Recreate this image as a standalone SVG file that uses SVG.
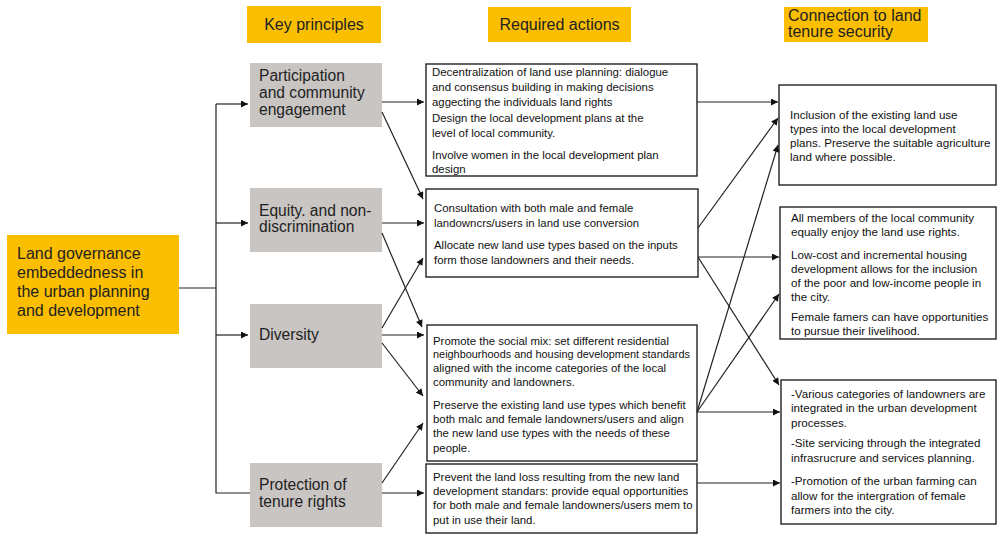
<svg xmlns="http://www.w3.org/2000/svg" width="997" height="536" viewBox="0 0 997 536">
<style>
.yel{fill:#FCBF00}
.gray{fill:#C9C5C3}
.box{fill:#fff;stroke:#222;stroke-width:1.4}
.hd{font-family:"Liberation Sans",Arial,sans-serif;font-size:16px;fill:#222}
.pr{font-family:"Liberation Sans",Arial,sans-serif;font-size:15.6px;fill:#222}
.ac{font-family:"Liberation Sans",Arial,sans-serif;font-size:11.4px;fill:#111}
.tn{font-family:"Liberation Sans",Arial,sans-serif;font-size:11.6px;fill:#111}
.ln{fill:none;stroke:#222;stroke-width:1.2}
.ar{fill:none;stroke:#222;stroke-width:1.2;marker-end:url(#ah)}
</style>
<defs>
<marker id="ah" viewBox="0 0 10 10" refX="10" refY="5" markerWidth="8" markerHeight="7" markerUnits="userSpaceOnUse" orient="auto">
<path d="M0,0 L10,5 L0,10 z" fill="#111"/>
</marker>
</defs>
<rect width="997" height="536" fill="#fff"/>

<g id="hdr-key"><rect class="yel" x="247" y="6" width="134" height="37"/><text class="hd" x="314" y="30" text-anchor="middle">Key principles</text></g>
<g id="hdr-actions"><rect class="yel" x="488" y="7" width="143" height="35"/><text class="hd" x="559.5" y="30" text-anchor="middle">Required actions</text></g>
<g id="hdr-tenure"><rect class="yel" x="784" y="7" width="144" height="35"/><text class="hd" x="788" y="21">Connection to land</text><text class="hd" x="788" y="37">tenure security</text></g>

<g id="root"><rect class="yel" x="7" y="235" width="172" height="99"/>
<text class="hd" x="17" y="259">Land governance</text>
<text class="hd" x="17" y="278">embeddedness in</text>
<text class="hd" x="17" y="297">the urban planning</text>
<text class="hd" x="17" y="316">and development</text></g>

<g id="p1"><rect class="gray" x="250" y="63" width="132" height="64"/>
<text class="pr" x="259" y="81">Participation</text><text class="pr" x="259" y="98">and community</text><text class="pr" x="259" y="115">engagement</text></g>
<g id="p2"><rect class="gray" x="250" y="188" width="132" height="64"/>
<text class="pr" x="259" y="216">Equity. and non-</text><text class="pr" x="259" y="232">discrimination</text></g>
<g id="p3"><rect class="gray" x="250" y="304" width="132" height="64"/>
<text class="pr" x="259" y="340">Diversity</text></g>
<g id="p4"><rect class="gray" x="250" y="463" width="132" height="64"/>
<text class="pr" x="259" y="490">Protection of</text><text class="pr" x="259" y="507">tenure rights</text></g>

<g id="a1"><rect class="box" x="426" y="64" width="271" height="112"/>
<text class="ac" x="432" y="76">Decentralization of land use planning: dialogue</text>
<text class="ac" x="432" y="91">and consensus building in making decisions</text>
<text class="ac" x="432" y="106">aggecting the individuals land rights</text>
<text class="ac" x="432" y="122">Design the local development plans at the</text>
<text class="ac" x="432" y="137">level of local community.</text>
<text class="ac" x="432" y="159">Involve women in the local development plan</text>
<text class="ac" x="432" y="173">design</text></g>
<g id="a2"><rect class="box" x="426" y="189" width="272" height="88"/>
<text class="ac" x="434" y="212">Consultation with both male and female</text>
<text class="ac" x="434" y="227">landowncrs/users in land use conversion</text>
<text class="ac" x="434" y="249">Allocate new land use types based on the inputs</text>
<text class="ac" x="434" y="264">form those landowners and their needs.</text></g>
<g id="a3"><rect class="box" x="427" y="325" width="270" height="136"/>
<text class="ac" x="433" y="345">Promote the social mix: set different residential</text>
<text class="ac" x="433" y="358" textLength="257" lengthAdjust="spacingAndGlyphs">neighbourhoods and housing development standards</text>
<text class="ac" x="433" y="372">aligned with the income categories of the local</text>
<text class="ac" x="433" y="386">community and landowners.</text>
<text class="ac" x="433" y="409">Preserve the existing land use types which benefit</text>
<text class="ac" x="433" y="423">both malc and female landowners/users and align</text>
<text class="ac" x="433" y="437">the new land use types with the needs of these</text>
<text class="ac" x="433" y="452">people.</text></g>
<g id="a4"><rect class="box" x="426" y="464" width="271" height="69"/>
<text class="ac" x="433" y="481">Prevent the land loss resulting from the new land</text>
<text class="ac" x="433" y="495">development standars: provide equal opportunities</text>
<text class="ac" x="433" y="509">for both male and female landowners/users mem to</text>
<text class="ac" x="433" y="524">put in use their land.</text></g>

<g id="t1"><rect class="box" x="779" y="85" width="217" height="100"/>
<text class="tn" x="790" y="119">Inclusion of the existing land use</text>
<text class="tn" x="790" y="133">types into the local development</text>
<text class="tn" x="790" y="147">plans. Preserve the suitable agriculture</text>
<text class="tn" x="790" y="161">land where possible.</text></g>
<g id="t2"><rect class="box" x="780" y="207" width="216" height="132"/>
<text class="tn" x="791" y="222">All members of the local community</text>
<text class="tn" x="791" y="236">equally enjoy the land use rights.</text>
<text class="tn" x="791" y="259">Low-cost and incremental housing</text>
<text class="tn" x="791" y="273">development allows for the inclusion</text>
<text class="tn" x="791" y="287">of the poor and low-income people in</text>
<text class="tn" x="791" y="301">the city.</text>
<text class="tn" x="791" y="321">Female famers can have opportunities</text>
<text class="tn" x="791" y="335">to pursue their livelihood.</text></g>
<g id="t3"><rect class="box" x="781" y="380" width="215" height="144"/>
<text class="tn" x="791" y="398">-Various categories of landowners are</text>
<text class="tn" x="791" y="412">integrated in the urban development</text>
<text class="tn" x="791" y="427">processes.</text>
<text class="tn" x="791" y="447">-Site servicing through the integrated</text>
<text class="tn" x="791" y="462">infrasrucrure and services planning.</text>
<text class="tn" x="791" y="485">-Promotion of the urban farming can</text>
<text class="tn" x="791" y="500">allow for the intergration of female</text>
<text class="tn" x="791" y="514">farmers into the city.</text></g>

<g id="connectors">
<path class="ln" d="M179,288 H216 M216,104 V493 H250"/>
<path class="ar" d="M216,104 H248"/>
<path class="ar" d="M216,223 H248"/>
<path class="ar" d="M216,335 H248"/>
<path class="ar" d="M382,102 H424"/>
<path class="ar" d="M382,112 L423,199"/>
<path class="ar" d="M382,223 H424"/>
<path class="ar" d="M382,233 L422,327"/>
<path class="ar" d="M382,328 L423,258"/>
<path class="ar" d="M382,335 H424"/>
<path class="ar" d="M382,343 L423,396"/>
<path class="ar" d="M382,483 L423,423"/>
<path class="ar" d="M382,493 H424"/>
<path class="ar" d="M697,102 H778"/>
<path class="ar" d="M698,228 L778,118"/>
<path class="ar" d="M698,257 H779"/>
<path class="ar" d="M698,257 L779,385"/>
<path class="ar" d="M697,412 L778,145"/>
<path class="ar" d="M697,412 L779,294"/>
<path class="ar" d="M697,412 H780"/>
<path class="ar" d="M697,483 H780"/>
</g>
</svg>
